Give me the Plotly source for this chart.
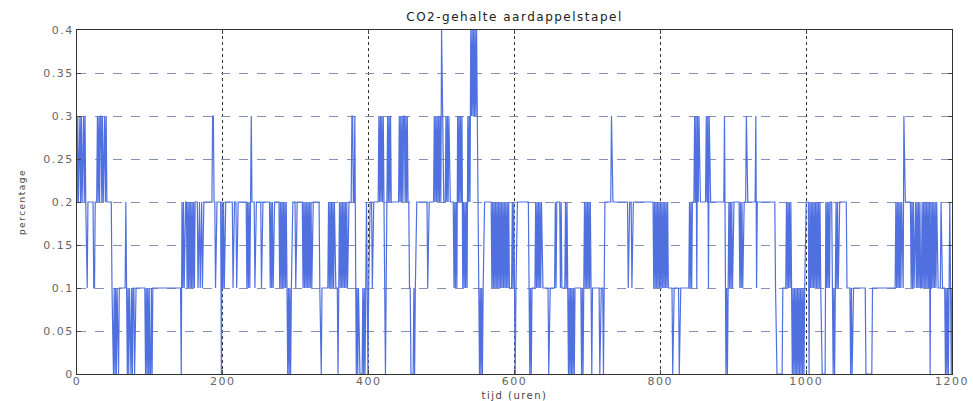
import numpy as np
import plotly.graph_objects as go

# CO2 level per hour, stored as (start hour, hourly levels in tenths of a percent).
# Each digit is one hour; the last digit of a run holds until the next run starts.
CO2_RUNS = [
    (0, "2323323233232"),
    (13, "112"),
    (23, "112"),
    (28, "32323323233232"),
    (48, "10010101001"),
    (67, "21"),
    (69, "010100101101"),
    (94, "01010100101"),
    (143, "02"),
    (145, "1212"),
    (151, "121212121212"),
    (166, "12212212"),
    (186, "332"),
    (190, "12"),
    (198, "021212"),
    (214, "12"),
    (219, "12"),
    (233, "121212"),
    (239, "32"),
    (244, "12"),
    (253, "12"),
    (265, "121212"),
    (278, "1212121212"),
    (288, "1010101"),
    (295, "2"),
    (300, "12"),
    (310, "12121212121212"),
    (333, "1001"),
    (345, "2121212121"),
    (358, "01212121212121"),
    (372, "2"),
    (377, "3322"),
    (381, "3"),
    (382, "1010100"),
    (392, "1010121012"),
    (405, "12"),
    (414, "3232323"),
    (421, "21012"),
    (426, "32323"),
    (431, "2"),
    (442, "3232323323232"),
    (455, "21"),
    (458, "0"),
    (462, "1012"),
    (481, "12"),
    (490, "3232323232432"),
    (506, "323232"),
    (517, "12121"),
    (522, "3232323"),
    (529, "1212121"),
    (536, "3232"),
    (540, "434343434"),
    (549, "3"),
    (550, "210101012"),
    (569, "1212121212121212121212121"),
    (596, "12121012"),
    (620, "1010"),
    (624, "1"),
    (629, "2121212121"),
    (647, "01"),
    (656, "212"),
    (663, "121"),
    (670, "212"),
    (673, "10101010101"),
    (692, "0101"),
    (696, "2121212121"),
    (706, "01"),
    (717, "01"),
    (722, "02"),
    (733, "32"),
    (756, "12"),
    (761, "12"),
    (791, "12121212121212121212"),
    (811, "1"),
    (817, "01"),
    (826, "01"),
    (840, "21212"),
    (847, "32313232"),
    (863, "323132"),
    (888, "3101012121212"),
    (909, "121212"),
    (918, "32"),
    (931, "312"),
    (958, "10"),
    (968, "1"),
    (973, "2121212"),
    (980, "1010101010101010101"),
    (999, "2"),
    (1004, "021212121212121210"),
    (1027, "2121212"),
    (1036, "1010121212"),
    (1056, "1"),
    (1061, "0101"),
    (1082, "0"),
    (1091, "1"),
    (1123, "2121212121"),
    (1134, "32"),
    (1144, "1212122121212112121212121202121212121"),
    (1184, "121"),
    (1191, "01010121"),
    (1199, "01"),
]

X_TICKS = [0, 200, 400, 600, 800, 1000, 1200]
Y_TICKS = [0, 0.05, 0.1, 0.15, 0.2, 0.25, 0.3, 0.35, 0.4]
Y_TICK_LABELS = ["0", "0.05", "0.1", "0.15", "0.2", "0.25", "0.3", "0.35", "0.4"]

LAST_HOUR = 1200

# expand the runs into one value per hour
values = [None] * (LAST_HOUR + 1)
for start, digits in CO2_RUNS:
    for offset, ch in enumerate(digits):
        if start + offset <= LAST_HOUR:
            values[start + offset] = int(ch) / 10
current = values[0]
for i, v in enumerate(values):
    if v is None:
        values[i] = current
    else:
        current = v

hours = np.arange(LAST_HOUR + 1)

fig = go.Figure()
fig.add_trace(go.Scatter(
    x=hours, y=values, mode="lines",
    line=dict(color="rgb(80,112,224)", width=1.2),
    hoverinfo="skip",
))

tick_font = dict(family="DejaVu Sans", size=11, color="#666666")

fig.update_layout(
    width=973, height=401,
    margin=dict(l=77, r=21, t=30, b=27),
    paper_bgcolor="white", plot_bgcolor="white",
    showlegend=False,
    title=dict(
        text="CO2-gehalte aardappelstapel",
        font=dict(family="DejaVu Sans", size=12, color="#222222"),
        xref="paper", x=0.5, xanchor="center",
        yref="container", y=1 - 17 / 401, yanchor="middle",
    ),
    xaxis=dict(
        range=[0, 1200], tickvals=X_TICKS, ticks="inside", ticklen=4,
        tickcolor="#444444", showline=True, linecolor="#333333", linewidth=1,
        mirror="ticks", showgrid=True, gridcolor="#333333", griddash="dot",
        gridwidth=1, zeroline=False, tickfont=tick_font, automargin=False,
        ticklabelstandoff=-3,
        title=dict(text="tijd (uren)", standoff=8,
                   font=dict(family="DejaVu Sans", size=10, color="#444444")),
    ),
    yaxis=dict(
        range=[0, 0.4], tickvals=Y_TICKS, ticktext=Y_TICK_LABELS,
        ticks="inside", ticklen=4, tickcolor="#444444", showline=True,
        linecolor="#333333", linewidth=1, mirror="ticks", showgrid=True,
        gridcolor="#8491b4", griddash="dash", gridwidth=1, zeroline=False,
        tickfont=tick_font, automargin=False,
        title=dict(text="percentage", standoff=22,
                   font=dict(family="DejaVu Sans", size=9, color="#444444")),
    ),
)

# widen the lettering of the labels a little, in the manner of the old screen fonts
spacing_js = """
var gd = document.getElementById('{plot_id}');
gd.querySelectorAll('.xtick text, .ytick text, .gtitle, .xtitle, .ytitle').forEach(function (t) {
    t.style.letterSpacing = '1.5px';
});
"""

fig.write_html("out.html", post_script=spacing_js)
